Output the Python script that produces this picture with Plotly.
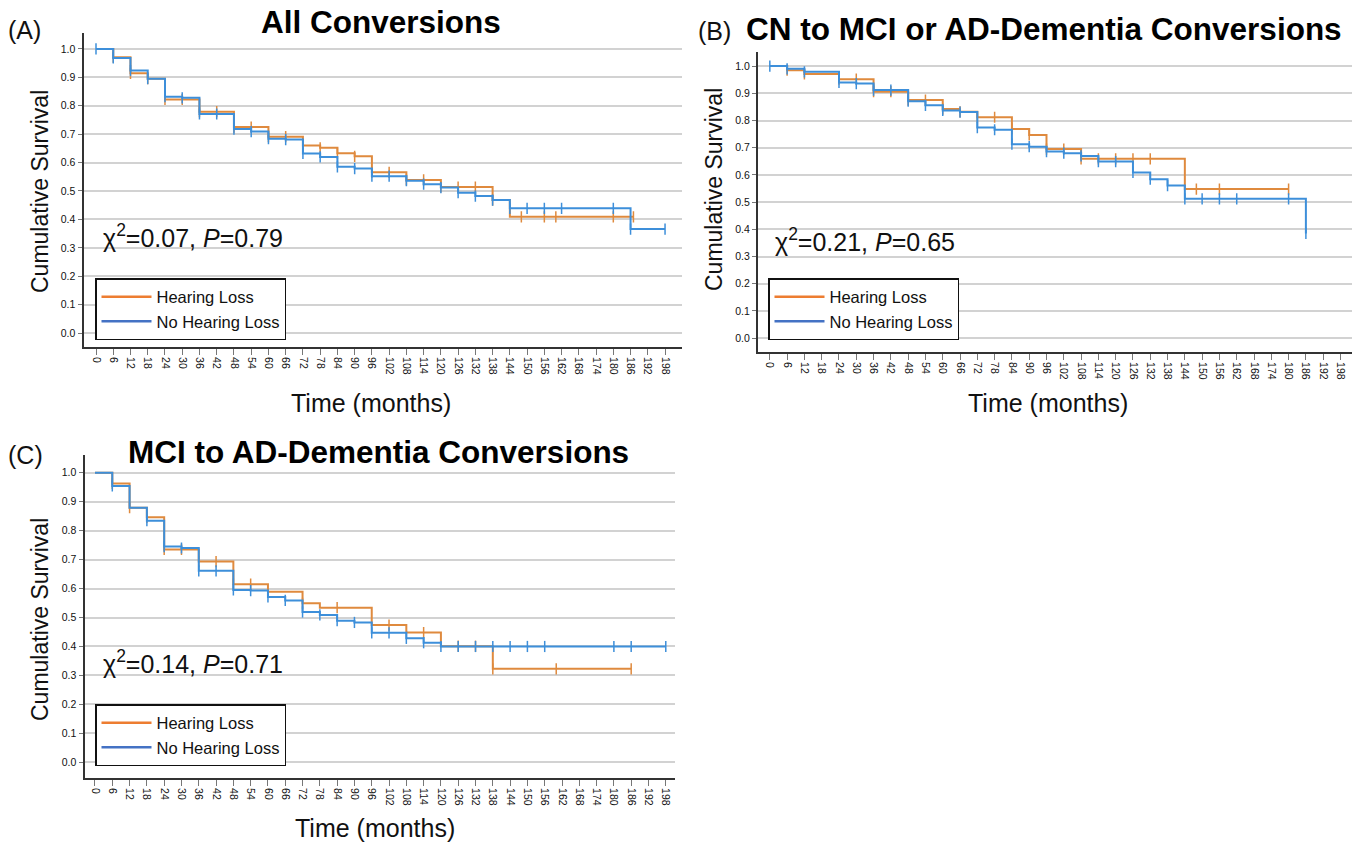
import plotly.graph_objects as go
from bisect import bisect_right

W, H = 1362, 842
OFF = 8  # page body margin in the browser

months = list(range(0, 199, 6))
month_labels = [str(m) for m in months]
y_ticks = [round(i * 0.1, 1) for i in range(11)]
y_labels = [f"{v:.1f}" for v in y_ticks]

series_names = ["Hearing Loss", "No Hearing Loss"]

# Panel A: All Conversions
A_HL_t = [0, 6, 12, 18, 24, 36, 48, 60, 72, 78, 84, 90, 96, 108, 120, 138, 144]
A_HL_s = [1.0, 0.971, 0.914, 0.895, 0.822, 0.779, 0.725, 0.691, 0.660, 0.652, 0.633, 0.622, 0.566, 0.539, 0.514, 0.468, 0.409]
A_HL_end = 187
A_HL_cens = [6, 12, 18, 24, 30, 36, 42, 48, 54, 60, 66, 72, 78, 84, 90, 96, 102, 108, 114, 120, 126, 132, 138, 148, 156, 160, 180, 187]

A_NHL_t = [0, 6, 12, 18, 24, 30, 36, 48, 54, 60, 66, 72, 78, 84, 90, 96, 108, 114, 120, 126, 132, 138, 144, 186]
A_NHL_s = [1.0, 0.968, 0.924, 0.895, 0.832, 0.828, 0.771, 0.718, 0.709, 0.684, 0.681, 0.632, 0.620, 0.585, 0.579, 0.552, 0.536, 0.524, 0.512, 0.494, 0.482, 0.468, 0.439, 0.366]
A_NHL_end = 198
A_NHL_cens = [0, 6, 12, 18, 24, 30, 36, 42, 48, 54, 60, 66, 72, 78, 84, 90, 96, 102, 108, 114, 120, 126, 132, 138, 144, 150, 156, 162, 180, 186, 198]

# Panel B: CN to MCI or AD-Dementia Conversions
B_HL_t = [0, 6, 12, 24, 36, 48, 60, 66, 72, 84, 90, 96, 108, 144]
B_HL_s = [1.0, 0.985, 0.971, 0.952, 0.906, 0.875, 0.842, 0.832, 0.812, 0.769, 0.747, 0.695, 0.659, 0.548]
B_HL_end = 180
B_HL_cens = [6, 12, 24, 30, 36, 42, 48, 54, 60, 66, 72, 78, 84, 90, 96, 102, 108, 114, 120, 126, 132, 148, 156, 180]

B_NHL_t = [0, 6, 12, 24, 30, 36, 48, 54, 60, 66, 72, 78, 84, 90, 96, 102, 108, 114, 126, 132, 138, 144, 186]
B_NHL_s = [1.0, 0.99, 0.979, 0.94, 0.936, 0.912, 0.871, 0.856, 0.837, 0.831, 0.774, 0.766, 0.713, 0.704, 0.686, 0.68, 0.67, 0.649, 0.609, 0.584, 0.561, 0.512, 0.385]
B_NHL_end = 186
B_NHL_cens = [0, 6, 12, 24, 30, 36, 42, 48, 54, 60, 66, 72, 78, 84, 90, 96, 102, 108, 114, 120, 126, 132, 138, 144, 150, 156, 162, 180, 186]

# Panel C: MCI to AD-Dementia Conversions
C_HL_t = [0, 6, 12, 18, 24, 36, 48, 60, 72, 78, 96, 108, 120, 138]
C_HL_s = [1.0, 0.963, 0.879, 0.846, 0.735, 0.693, 0.615, 0.589, 0.549, 0.534, 0.474, 0.448, 0.401, 0.323]
C_HL_end = 186
C_HL_cens = [6, 12, 18, 24, 30, 36, 42, 48, 54, 72, 84, 102, 114, 126, 132, 138, 160, 186]

C_NHL_t = [0, 6, 12, 18, 24, 30, 36, 48, 54, 60, 66, 72, 78, 84, 90, 96, 108, 114, 120]
C_NHL_s = [1.0, 0.954, 0.879, 0.834, 0.745, 0.74, 0.661, 0.595, 0.593, 0.571, 0.559, 0.519, 0.509, 0.489, 0.483, 0.447, 0.428, 0.413, 0.40]
C_NHL_end = 198
C_NHL_cens = [6, 18, 24, 30, 36, 42, 48, 54, 60, 66, 72, 78, 84, 90, 96, 102, 108, 114, 120, 126, 132, 138, 144, 150, 156, 180, 186, 198]

titles = ["All Conversions", "CN to MCI or AD-Dementia Conversions", "MCI to AD-Dementia Conversions"]
panel_tags = ["(A)", "(B)", "(C)"]
stats = ["χ<sup>2</sup>=0.07, <i>P</i>=0.79", "χ<sup>2</sup>=0.21, <i>P</i>=0.65", "χ<sup>2</sup>=0.14, <i>P</i>=0.71"]

HL_COL = "#DF8A3E"
NHL_COL = "#3D8FDA"
HL_LEG = "#ED7D31"
NHL_LEG = "#4472C4"
FONT = "Liberation Sans, Arial, Helvetica, sans-serif"


def px(x):
    return (x - OFF) / W


def py(y):
    return 1 - (y - OFF) / H


def surv_at(t_list, s_list, t):
    i = bisect_right(t_list, t) - 1
    return s_list[max(i, 0)]


panels = [
    dict(data=[(A_HL_t, A_HL_s, A_HL_end, A_HL_cens), (A_NHL_t, A_NHL_s, A_NHL_end, A_NHL_cens)],
         dom_x=(83.5, 682), dom_y=(33, 347), xr=(-4.35, 203.9), yr=(-0.049, 1.056),
         title=(381, 22), tag=(6, 30), stat=(101, 236), ytitle=(40, 192), xtitle=(371, 403),
         legend=(95, 278)),
    dict(data=[(B_HL_t, B_HL_s, B_HL_end, B_HL_cens), (B_NHL_t, B_NHL_s, B_NHL_end, B_NHL_cens)],
         dom_x=(758, 1352), dom_y=(51.7, 352), xr=(-4.1, 202), yr=(-0.051, 1.053),
         title=(1044, 29), tag=(696, 31), stat=(773, 240), ytitle=(714, 190), xtitle=(1048, 403),
         legend=(768, 278)),
    dict(data=[(C_HL_t, C_HL_s, C_HL_end, C_HL_cens), (C_NHL_t, C_NHL_s, C_NHL_end, C_NHL_cens)],
         dom_x=(84.5, 675), dom_y=(455, 778), xr=(-3.64, 201.2), yr=(-0.054, 1.061),
         title=(378, 452), tag=(6, 455), stat=(101, 662), ytitle=(40, 620), xtitle=(375, 828),
         legend=(95, 704)),
]

fig = go.Figure()
annotations = []
layout = {}
for k, p in enumerate(panels):
    sfx = "" if k == 0 else str(k + 1)
    xa, ya = "x" + sfx, "y" + sfx
    leg = "legend" + sfx
    for (t, s, end, cens), col, name in zip(p["data"], [HL_COL, NHL_COL], series_names):
        fig.add_trace(go.Scatter(x=t + [end], y=s + [s[-1]], mode="lines", line=dict(color=col, width=2, shape="hv"),
                                 xaxis=xa, yaxis=ya, showlegend=False, hoverinfo="skip"))
        fig.add_trace(go.Scatter(x=cens, y=[surv_at(t, s, c) for c in cens], mode="markers",
                                 marker=dict(symbol="line-ns", size=8, line=dict(color=col, width=1.5)),
                                 xaxis=xa, yaxis=ya, showlegend=False, hoverinfo="skip"))
    for lcol, name in zip([HL_LEG, NHL_LEG], series_names):
        fig.add_trace(go.Scatter(x=[None], y=[None], mode="lines", line=dict(color=lcol, width=2.5), name=name,
                                 xaxis=xa, yaxis=ya, legend=leg, showlegend=True))
    layout["xaxis" + sfx] = dict(domain=[px(p["dom_x"][0]), px(p["dom_x"][1])], range=list(p["xr"]), anchor=ya,
                                 tickmode="array", tickvals=months, ticktext=month_labels, tickangle=90,
                                 showgrid=False, zeroline=False, showline=True, linecolor="#333", linewidth=2,
                                 ticks="outside", ticklen=6, tickcolor="#777", tickwidth=1,
                                 tickfont=dict(size=10.5, color="#111", family=FONT))
    layout["yaxis" + sfx] = dict(domain=[py(p["dom_y"][1]), py(p["dom_y"][0])], range=list(p["yr"]), anchor=xa,
                                 tickmode="array", tickvals=y_ticks, ticktext=y_labels,
                                 showgrid=True, gridcolor="#d2d2d2", gridwidth=1.5, zeroline=False,
                                 showline=True, linecolor="#333", linewidth=2,
                                 ticks="outside", ticklen=4, tickcolor="#777", tickwidth=1,
                                 tickfont=dict(size=10.5, color="#111", family=FONT))
    layout[leg] = dict(x=px(p["legend"][0]), y=py(p["legend"][1]), xanchor="left", yanchor="top",
                       bgcolor="white", bordercolor="#111", borderwidth=1.5,
                       font=dict(size=16.5, color="#111", family=FONT), itemwidth=50, tracegroupgap=0)
    annotations += [
        dict(text="<b>" + titles[k] + "</b>", x=px(p["title"][0]), y=py(p["title"][1]), xref="paper", yref="paper",
             showarrow=False, xanchor="center", yanchor="middle", font=dict(size=31.5, color="#000", family=FONT)),
        dict(text=panel_tags[k], x=px(p["tag"][0]), y=py(p["tag"][1]), xref="paper", yref="paper",
             showarrow=False, xanchor="left", yanchor="middle", font=dict(size=25, color="#111", family=FONT)),
        dict(text=stats[k], x=px(p["stat"][0]), y=py(p["stat"][1]), xref="paper", yref="paper",
             showarrow=False, xanchor="left", yanchor="middle", font=dict(size=25, color="#111", family=FONT)),
        dict(text="Cumulative Survival", x=px(p["ytitle"][0]), y=py(p["ytitle"][1]), xref="paper", yref="paper",
             showarrow=False, xanchor="center", yanchor="middle", textangle=-90,
             font=dict(size=23, color="#111", family=FONT)),
        dict(text="Time (months)", x=px(p["xtitle"][0]), y=py(p["xtitle"][1]), xref="paper", yref="paper",
             showarrow=False, xanchor="center", yanchor="middle", font=dict(size=25, color="#111", family=FONT)),
    ]

fig.update_layout(width=W, height=H, margin=dict(l=0, r=0, t=0, b=0), paper_bgcolor="white",
                  plot_bgcolor="white", annotations=annotations, font=dict(family=FONT), **layout)
fig.write_html("out.html")
